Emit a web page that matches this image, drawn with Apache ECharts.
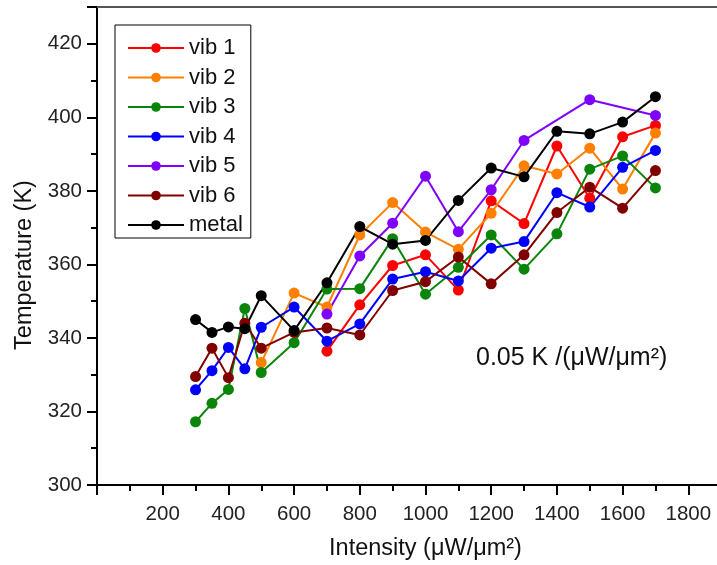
<!DOCTYPE html>
<html>
<head>
<meta charset="utf-8">
<script src="https://cdn.jsdelivr.net/npm/echarts@6/dist/echarts.min.js"></script>
<style>
html,body{margin:0;padding:0;background:#fff;}
#chart{width:717px;height:565px;}
</style>
</head>
<body>
<div id="chart"></div>
<script>
// Data
var intensity = [300, 350, 400, 450, 500, 600, 700, 800, 900, 1000, 1100, 1200, 1300, 1400, 1500, 1600, 1700];
var vib1  = [null, null, null, null, null, null, 336.4, 349.0, 359.7, 362.6, 353.0, 377.3, 371.1, 392.2, 378.0, 394.7, 397.8];
var vib2  = [null, null, null, null, 333.3, 352.2, 348.4, 368.0, 376.8, 368.8, 364.1, 373.9, 386.8, 384.6, 391.6, 380.5, 395.7];
var vib3  = [317.2, 322.2, 326.0, 348.0, 330.6, 338.7, 353.3, 353.4, 367.0, 351.9, 359.2, 368.0, 358.7, 368.3, 385.9, 389.5, 380.8];
var vib4  = [325.9, 331.1, 337.4, 331.6, 342.9, 348.4, 339.1, 343.8, 356.0, 358.0, 355.5, 364.4, 366.2, 379.5, 375.6, 386.4, 391.0];
var vib5  = [null, null, null, null, null, null, 346.5, 362.3, 371.2, 384.0, 368.9, 380.3, 393.7, null, 404.8, null, 400.5];
var vib6  = [329.5, 337.2, 329.2, 344.0, 337.2, 341.5, 342.7, 340.8, 352.9, 355.3, 362.0, 354.7, 362.6, 374.1, 381.0, 375.3, 385.5];
var metal = [345.0, 341.5, 343.0, 342.5, 351.5, 342.0, 355.0, 370.3, 365.5, 366.5, 377.4, 386.2, 383.8, 396.2, 395.5, 398.7, 405.6];

var seriesNames = ['vib 1', 'vib 2', 'vib 3', 'vib 4', 'vib 5', 'vib 6', 'metal'];
var seriesValues = [vib1, vib2, vib3, vib4, vib5, vib6, metal];
var seriesColors = ['#ff0000', '#ff8000', '#0a850a', '#0000ff', '#8000ff', '#800000', '#000000'];

var fontFam = '"Liberation Sans", Arial, Helvetica, sans-serif';

function pairs(vals) {
  var out = [];
  for (var i = 0; i < intensity.length; i++) {
    if (vals[i] !== null) out.push([intensity[i], vals[i]]);
  }
  return out;
}

var series = seriesNames.map(function (n, k) {
  return {
    name: n,
    type: 'line',
    data: pairs(seriesValues[k]),
    symbol: 'circle',
    symbolSize: 11,
    itemStyle: { color: seriesColors[k] },
    lineStyle: { color: seriesColors[k], width: 2 },
    emphasis: { disabled: true },
    animation: false
  };
});

var chart = echarts.init(document.getElementById('chart'), null, { renderer: 'canvas' });
chart.setOption({
  backgroundColor: '#fff',
  animation: false,
  grid: { left: 97, top: 7, right: -37, bottom: 80, containLabel: false, outerBoundsMode: 'none' },
  legend: {
    orient: 'vertical',
    left: 115,
    top: 25,
    data: seriesNames,
    itemWidth: 56,
    itemHeight: 12,
    itemGap: 7.5,
    padding: [12, 8, 2, 12],
    borderColor: '#000',
    borderWidth: 1,
    textStyle: { fontSize: 22, fontFamily: fontFam, color: '#111', lineHeight: 22 }
  },
  xAxis: [{
    type: 'value',
    min: 0, max: 2000, interval: 200,
    name: 'Intensity (μW/μm²)',
    nameLocation: 'middle',
    nameGap: 52,
    nameTextStyle: { fontSize: 23.5, fontFamily: fontFam, color: '#111' },
    axisLine: { show: true, lineStyle: { color: '#000', width: 2 } },
    axisTick: { show: true, inside: false, length: 10, lineStyle: { color: '#000', width: 2 } },
    minorTick: { show: true, splitNumber: 2, length: 6, lineStyle: { color: '#000', width: 2 } },
    axisLabel: { showMinLabel: false, showMaxLabel: false, fontSize: 20.5, fontFamily: fontFam, color: '#222', margin: 19,
      formatter: function (v) { return String(v); } },
    splitLine: { show: false }
  }, {
    type: 'value',
    position: 'top',
    min: 0, max: 2000,
    axisLine: { show: true, lineStyle: { color: '#555', width: 2 } },
    axisTick: { show: false },
    axisLabel: { show: false },
    splitLine: { show: false }
  }],
  yAxis: {
    type: 'value',
    min: 300, max: 430, interval: 20,
    name: 'Temperature (K)',
    nameLocation: 'middle',
    nameGap: 54,
    nameTextStyle: { fontSize: 23.5, fontFamily: fontFam, color: '#111', padding: [0, 38, 0, 0] },
    axisLine: { show: true, lineStyle: { color: '#000', width: 2 } },
    axisTick: { show: true, inside: false, length: 10, lineStyle: { color: '#000', width: 2 } },
    minorTick: { show: true, splitNumber: 2, length: 6, lineStyle: { color: '#000', width: 2 } },
    axisLabel: { showMaxLabel: false, fontSize: 20.5, fontFamily: fontFam, color: '#222', margin: 15 },
    splitLine: { show: false }
  },
  graphic: [{
    type: 'text',
    left: 476,
    top: 346,
    style: {
      text: '{a|0.05 K }{b|/(μW/μm²)}',
      rich: {
        a: { fontSize: 25, fontFamily: fontFam, fill: '#111' },
        b: { fontSize: 25, fontFamily: fontFam, fill: '#111' }
      }
    }
  }],
  series: series
});
</script>
</body>
</html>
